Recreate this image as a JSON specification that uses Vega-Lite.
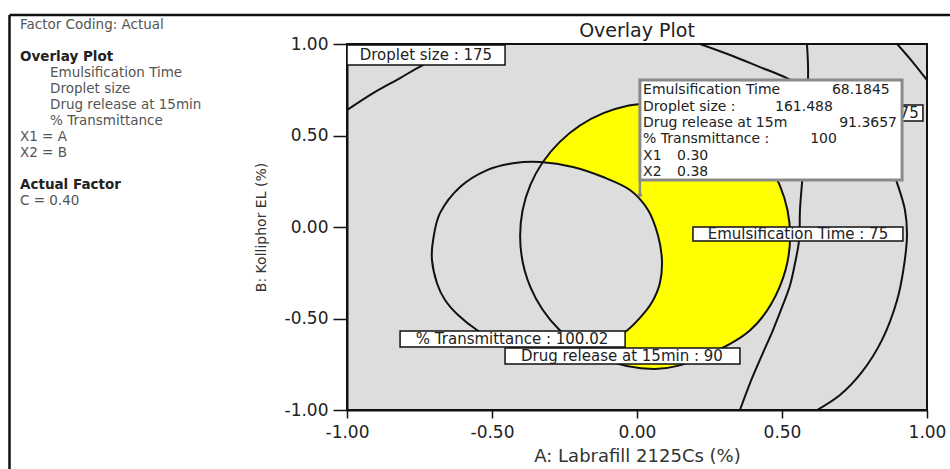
{
  "$schema": "https://vega.github.io/schema/vega-lite/v6.json",
  "background": "white",
  "autosize": {"type": "none"},
  "padding": {"left": 347, "top": 44, "right": 23, "bottom": 59},
  "width": 580,
  "height": 366,
  "view": {"fill": "#dddddd", "stroke": "#111", "strokeWidth": 2},
  "config": {"font": "DejaVu Sans"},
  "datasets": {
    "panel": [
      {"text": "Factor Coding: Actual", "x": -2.1276, "y": 1.1038, "kind": "note"},
      {"text": "Overlay Plot", "x": -2.1276, "y": 0.9290, "kind": "header"},
      {"text": "Emulsification Time", "x": -2.0241, "y": 0.8415, "kind": "item"},
      {"text": "Droplet size", "x": -2.0241, "y": 0.7541, "kind": "item"},
      {"text": "Drug release at 15min", "x": -2.0241, "y": 0.6667, "kind": "item"},
      {"text": "% Transmittance", "x": -2.0241, "y": 0.5792, "kind": "item"},
      {"text": "X1 = A", "x": -2.1276, "y": 0.4918, "kind": "item"},
      {"text": "X2 = B", "x": -2.1276, "y": 0.4044, "kind": "item"},
      {"text": "Actual Factor", "x": -2.1276, "y": 0.2295, "kind": "header"},
      {"text": "C = 0.40", "x": -2.1276, "y": 0.1421, "kind": "item"}
    ],
    "heading": [
      {"text": "Overlay Plot", "x": 0.0, "y": 1.071}
    ],
    "frame": [
      {"x1": -2.1638, "x2": -2.1638, "y1": 1.158, "y2": -1.35},
      {"x1": -2.1638, "x2": 1.09, "y1": 1.158, "y2": 1.158}
    ],
    "closed": [
      {"curve": "A", "i": 0, "x": -0.334, "y": 0.355},
      {"curve": "A", "i": 1, "x": -0.221, "y": 0.328},
      {"curve": "A", "i": 2, "x": -0.117, "y": 0.273},
      {"curve": "A", "i": 3, "x": -0.024, "y": 0.202},
      {"curve": "A", "i": 4, "x": 0.038, "y": 0.093},
      {"curve": "A", "i": 5, "x": 0.072, "y": -0.044},
      {"curve": "A", "i": 6, "x": 0.086, "y": -0.180},
      {"curve": "A", "i": 7, "x": 0.079, "y": -0.306},
      {"curve": "A", "i": 8, "x": 0.052, "y": -0.410},
      {"curve": "A", "i": 9, "x": 0.010, "y": -0.497},
      {"curve": "A", "i": 10, "x": -0.041, "y": -0.574},
      {"curve": "A", "i": 11, "x": -0.110, "y": -0.634},
      {"curve": "A", "i": 12, "x": -0.197, "y": -0.672},
      {"curve": "A", "i": 13, "x": -0.293, "y": -0.683},
      {"curve": "A", "i": 14, "x": -0.386, "y": -0.672},
      {"curve": "A", "i": 15, "x": -0.472, "y": -0.634},
      {"curve": "A", "i": 16, "x": -0.552, "y": -0.563},
      {"curve": "A", "i": 17, "x": -0.617, "y": -0.481},
      {"curve": "A", "i": 18, "x": -0.662, "y": -0.399},
      {"curve": "A", "i": 19, "x": -0.690, "y": -0.306},
      {"curve": "A", "i": 20, "x": -0.707, "y": -0.180},
      {"curve": "A", "i": 21, "x": -0.703, "y": -0.071},
      {"curve": "A", "i": 22, "x": -0.679, "y": 0.077},
      {"curve": "A", "i": 23, "x": -0.610, "y": 0.219},
      {"curve": "A", "i": 24, "x": -0.517, "y": 0.311},
      {"curve": "A", "i": 25, "x": -0.421, "y": 0.350},
      {"curve": "B", "i": 0, "x": 0.062, "y": 0.678},
      {"curve": "B", "i": 1, "x": 0.240, "y": 0.622},
      {"curve": "B", "i": 2, "x": 0.391, "y": 0.464},
      {"curve": "B", "i": 3, "x": 0.492, "y": 0.229},
      {"curve": "B", "i": 4, "x": 0.528, "y": -0.049},
      {"curve": "B", "i": 5, "x": 0.492, "y": -0.327},
      {"curve": "B", "i": 6, "x": 0.391, "y": -0.563},
      {"curve": "B", "i": 7, "x": 0.217, "y": -0.716},
      {"curve": "B", "i": 8, "x": 0.062, "y": -0.776},
      {"curve": "B", "i": 9, "x": -0.116, "y": -0.721},
      {"curve": "B", "i": 10, "x": -0.267, "y": -0.563},
      {"curve": "B", "i": 11, "x": -0.368, "y": -0.327},
      {"curve": "B", "i": 12, "x": -0.403, "y": -0.049},
      {"curve": "B", "i": 13, "x": -0.368, "y": 0.229},
      {"curve": "B", "i": 14, "x": -0.267, "y": 0.464},
      {"curve": "B", "i": 15, "x": -0.116, "y": 0.622}
    ],
    "open": [
      {"curve": "D175L", "i": 0, "x": -1.0, "y": 0.639},
      {"curve": "D175L", "i": 1, "x": -0.910, "y": 0.732},
      {"curve": "D175L", "i": 2, "x": -0.817, "y": 0.814},
      {"curve": "D175L", "i": 3, "x": -0.738, "y": 0.885},
      {"curve": "D175L", "i": 4, "x": -0.645, "y": 0.945},
      {"curve": "D175L", "i": 5, "x": -0.531, "y": 1.0},
      {"curve": "E75", "i": 0, "x": 0.586, "y": 1.0},
      {"curve": "E75", "i": 1, "x": 0.590, "y": 0.858},
      {"curve": "E75", "i": 2, "x": 0.586, "y": 0.639},
      {"curve": "E75", "i": 3, "x": 0.579, "y": 0.421},
      {"curve": "E75", "i": 4, "x": 0.569, "y": 0.240},
      {"curve": "E75", "i": 5, "x": 0.562, "y": 0.093},
      {"curve": "E75", "i": 6, "x": 0.559, "y": -0.071},
      {"curve": "E75", "i": 7, "x": 0.545, "y": -0.197},
      {"curve": "E75", "i": 8, "x": 0.528, "y": -0.317},
      {"curve": "E75", "i": 9, "x": 0.503, "y": -0.426},
      {"curve": "E75", "i": 10, "x": 0.469, "y": -0.563},
      {"curve": "E75", "i": 11, "x": 0.434, "y": -0.689},
      {"curve": "E75", "i": 12, "x": 0.397, "y": -0.825},
      {"curve": "E75", "i": 13, "x": 0.355, "y": -1.0},
      {"curve": "D175R", "i": 0, "x": 0.217, "y": 1.0},
      {"curve": "D175R", "i": 1, "x": 0.321, "y": 0.940},
      {"curve": "D175R", "i": 2, "x": 0.424, "y": 0.874},
      {"curve": "D175R", "i": 3, "x": 0.517, "y": 0.814},
      {"curve": "D175R", "i": 4, "x": 0.631, "y": 0.721},
      {"curve": "D175R", "i": 5, "x": 0.734, "y": 0.601},
      {"curve": "D175R", "i": 6, "x": 0.821, "y": 0.459},
      {"curve": "D175R", "i": 7, "x": 0.872, "y": 0.350},
      {"curve": "D175R", "i": 8, "x": 0.897, "y": 0.240},
      {"curve": "D175R", "i": 9, "x": 0.924, "y": 0.093},
      {"curve": "D175R", "i": 10, "x": 0.931, "y": -0.044},
      {"curve": "D175R", "i": 11, "x": 0.921, "y": -0.208},
      {"curve": "D175R", "i": 12, "x": 0.897, "y": -0.399},
      {"curve": "D175R", "i": 13, "x": 0.845, "y": -0.617},
      {"curve": "D175R", "i": 14, "x": 0.776, "y": -0.792},
      {"curve": "D175R", "i": 15, "x": 0.700, "y": -0.918},
      {"curve": "D175R", "i": 16, "x": 0.621, "y": -1.0},
      {"curve": "G", "i": 0, "x": 0.897, "y": 1.0},
      {"curve": "G", "i": 1, "x": 0.948, "y": 0.907},
      {"curve": "G", "i": 2, "x": 1.0, "y": 0.803}
    ],
    "labels": [
      {"text": "Droplet size : 175", "x1": -1.0, "x2": -0.455, "y1": 0.995, "y2": 0.885, "cx": -0.728, "cy": 0.940},
      {"text": "Droplet size : 175", "x1": 0.445, "x2": 0.986, "y1": 0.667, "y2": 0.579, "cx": 0.743, "cy": 0.623},
      {"text": "Emulsification Time : 75", "x1": 0.193, "x2": 0.917, "y1": 0.0, "y2": -0.077, "cx": 0.555, "cy": -0.038},
      {"text": "% Transmittance : 100.02", "x1": -0.817, "x2": -0.041, "y1": -0.568, "y2": -0.656, "cx": -0.431, "cy": -0.612},
      {"text": "Drug release at 15min : 90", "x1": -0.455, "x2": 0.355, "y1": -0.661, "y2": -0.749, "cx": -0.052, "cy": -0.705}
    ],
    "callout": [
      {"x1": 0.010, "x2": 0.914, "y1": 0.803, "y2": 0.257, "px": 0.010, "py": 0.175}
    ],
    "calloutText": [
      {"text": "Emulsification Time", "x": 0.021, "y": 0.749},
      {"text": "68.1845", "x": 0.672, "y": 0.749},
      {"text": "Droplet size :", "x": 0.021, "y": 0.656},
      {"text": "161.488", "x": 0.476, "y": 0.656},
      {"text": "Drug release at 15m", "x": 0.021, "y": 0.568},
      {"text": "91.3657", "x": 0.697, "y": 0.568},
      {"text": "% Transmittance :", "x": 0.021, "y": 0.481},
      {"text": "100", "x": 0.597, "y": 0.481},
      {"text": "X1", "x": 0.021, "y": 0.388},
      {"text": "0.30", "x": 0.138, "y": 0.388},
      {"text": "X2", "x": 0.021, "y": 0.301},
      {"text": "0.38", "x": 0.138, "y": 0.301}
    ]
  },
  "layer": [
    {
      "data": {"name": "closed"},
      "transform": [{"filter": "datum.curve == 'B'"}],
      "mark": {"type": "line", "interpolate": "cardinal-closed", "fill": "#ffff00", "strokeOpacity": 0, "clip": true},
      "encoding": {
        "x": {
          "field": "x", "type": "quantitative",
          "scale": {"domain": [-1, 1], "nice": false, "zero": false},
          "axis": {
            "values": [-1, -0.5, 0, 0.5, 1],
            "labelExpr": "replace(format(datum.value, '.2f'), '\u2212', '-')",
            "title": "A: Labrafill 2125Cs  (%)",
            "grid": false, "domainColor": "#111", "domainWidth": 2,
            "tickColor": "#111", "tickWidth": 1.5, "tickSize": 8,
            "labelFont": "DejaVu Sans", "labelFontSize": 17, "labelColor": "#222", "labelPadding": 6,
            "labelFlush": false, "labelOverlap": false,
            "titleFont": "DejaVu Sans", "titleFontSize": 18, "titleFontWeight": "normal", "titleColor": "#333", "titlePadding": 7
          }
        },
        "y": {
          "field": "y", "type": "quantitative",
          "scale": {"domain": [-1, 1], "nice": false, "zero": false},
          "axis": {
            "values": [-1, -0.5, 0, 0.5, 1],
            "labelExpr": "replace(format(datum.value, '.2f'), '\u2212', '-')",
            "title": "B: Kolliphor EL (%)",
            "grid": false, "domainColor": "#111", "domainWidth": 2,
            "tickColor": "#111", "tickWidth": 1.5, "tickSize": 14,
            "labelFont": "DejaVu Sans", "labelFontSize": 17, "labelColor": "#222", "labelPadding": 5,
            "labelFlush": false, "labelOverlap": false,
            "titleFont": "DejaVu Sans", "titleFontSize": 14, "titleFontWeight": "normal", "titleColor": "#333", "titlePadding": 16
          }
        },
        "order": {"field": "i", "type": "quantitative"}
      }
    },
    {
      "data": {"name": "closed"},
      "transform": [{"filter": "datum.curve == 'A'"}],
      "mark": {"type": "line", "interpolate": "cardinal-closed", "fill": "#dddddd", "strokeOpacity": 0, "clip": true},
      "encoding": {
        "x": {"field": "x", "type": "quantitative"},
        "y": {"field": "y", "type": "quantitative"},
        "order": {"field": "i", "type": "quantitative"}
      }
    },
    {
      "data": {"name": "closed"},
      "mark": {"type": "line", "interpolate": "cardinal-closed", "color": "#111", "strokeWidth": 2, "clip": true},
      "encoding": {
        "x": {"field": "x", "type": "quantitative"},
        "y": {"field": "y", "type": "quantitative"},
        "detail": {"field": "curve"},
        "order": {"field": "i", "type": "quantitative"}
      }
    },
    {
      "data": {"name": "open"},
      "mark": {"type": "line", "interpolate": "catmull-rom", "color": "#111", "strokeWidth": 2, "clip": true},
      "encoding": {
        "x": {"field": "x", "type": "quantitative"},
        "y": {"field": "y", "type": "quantitative"},
        "detail": {"field": "curve"},
        "order": {"field": "i", "type": "quantitative"}
      }
    },
    {
      "data": {"name": "labels"},
      "mark": {"type": "rect", "fill": "white", "stroke": "#111", "strokeWidth": 1.5},
      "encoding": {
        "x": {"field": "x1", "type": "quantitative"},
        "x2": {"field": "x2"},
        "y": {"field": "y1", "type": "quantitative"},
        "y2": {"field": "y2"}
      }
    },
    {
      "data": {"name": "labels"},
      "mark": {"type": "text", "align": "center", "baseline": "middle", "fontSize": 15, "color": "#222", "font": "DejaVu Sans"},
      "encoding": {
        "x": {"field": "cx", "type": "quantitative"},
        "y": {"field": "cy", "type": "quantitative"},
        "text": {"field": "text"}
      }
    },
    {
      "data": {"name": "callout"},
      "mark": {"type": "rule", "color": "#8a8a8a", "strokeWidth": 2.5},
      "encoding": {
        "x": {"field": "x1", "type": "quantitative"},
        "y": {"field": "y2", "type": "quantitative"},
        "y2": {"field": "py"}
      }
    },
    {
      "data": {"name": "callout"},
      "mark": {"type": "point", "filled": true, "color": "#8a8a8a", "size": 18, "opacity": 1},
      "encoding": {
        "x": {"field": "px", "type": "quantitative"},
        "y": {"field": "py", "type": "quantitative"}
      }
    },
    {
      "data": {"name": "callout"},
      "mark": {"type": "rect", "fill": "white", "stroke": "#8a8a8a", "strokeWidth": 3},
      "encoding": {
        "x": {"field": "x1", "type": "quantitative"},
        "x2": {"field": "x2"},
        "y": {"field": "y1", "type": "quantitative"},
        "y2": {"field": "y2"}
      }
    },
    {
      "data": {"name": "calloutText"},
      "mark": {"type": "text", "align": "left", "baseline": "middle", "fontSize": 14, "color": "#222", "font": "DejaVu Sans"},
      "encoding": {
        "x": {"field": "x", "type": "quantitative"},
        "y": {"field": "y", "type": "quantitative"},
        "text": {"field": "text"}
      }
    },
    {
      "data": {"name": "frame"},
      "mark": {"type": "rule", "color": "#111", "strokeWidth": 2.5},
      "encoding": {
        "x": {"field": "x1", "type": "quantitative"},
        "x2": {"field": "x2"},
        "y": {"field": "y1", "type": "quantitative"},
        "y2": {"field": "y2"}
      }
    },
    {
      "data": {"name": "panel"},
      "transform": [{"filter": "datum.kind != 'header'"}],
      "mark": {"type": "text", "align": "left", "baseline": "middle", "fontSize": 13.5, "color": "#555", "font": "DejaVu Sans"},
      "encoding": {
        "x": {"field": "x", "type": "quantitative"},
        "y": {"field": "y", "type": "quantitative"},
        "text": {"field": "text"}
      }
    },
    {
      "data": {"name": "panel"},
      "transform": [{"filter": "datum.kind == 'header'"}],
      "mark": {"type": "text", "align": "left", "baseline": "middle", "fontSize": 13.5, "fontWeight": "bold", "color": "#222", "font": "DejaVu Sans"},
      "encoding": {
        "x": {"field": "x", "type": "quantitative"},
        "y": {"field": "y", "type": "quantitative"},
        "text": {"field": "text"}
      }
    },
    {
      "data": {"name": "heading"},
      "mark": {"type": "text", "align": "center", "baseline": "middle", "fontSize": 19, "color": "#222", "font": "DejaVu Sans"},
      "encoding": {
        "x": {"field": "x", "type": "quantitative"},
        "y": {"field": "y", "type": "quantitative"},
        "text": {"field": "text"}
      }
    }
  ]
}
